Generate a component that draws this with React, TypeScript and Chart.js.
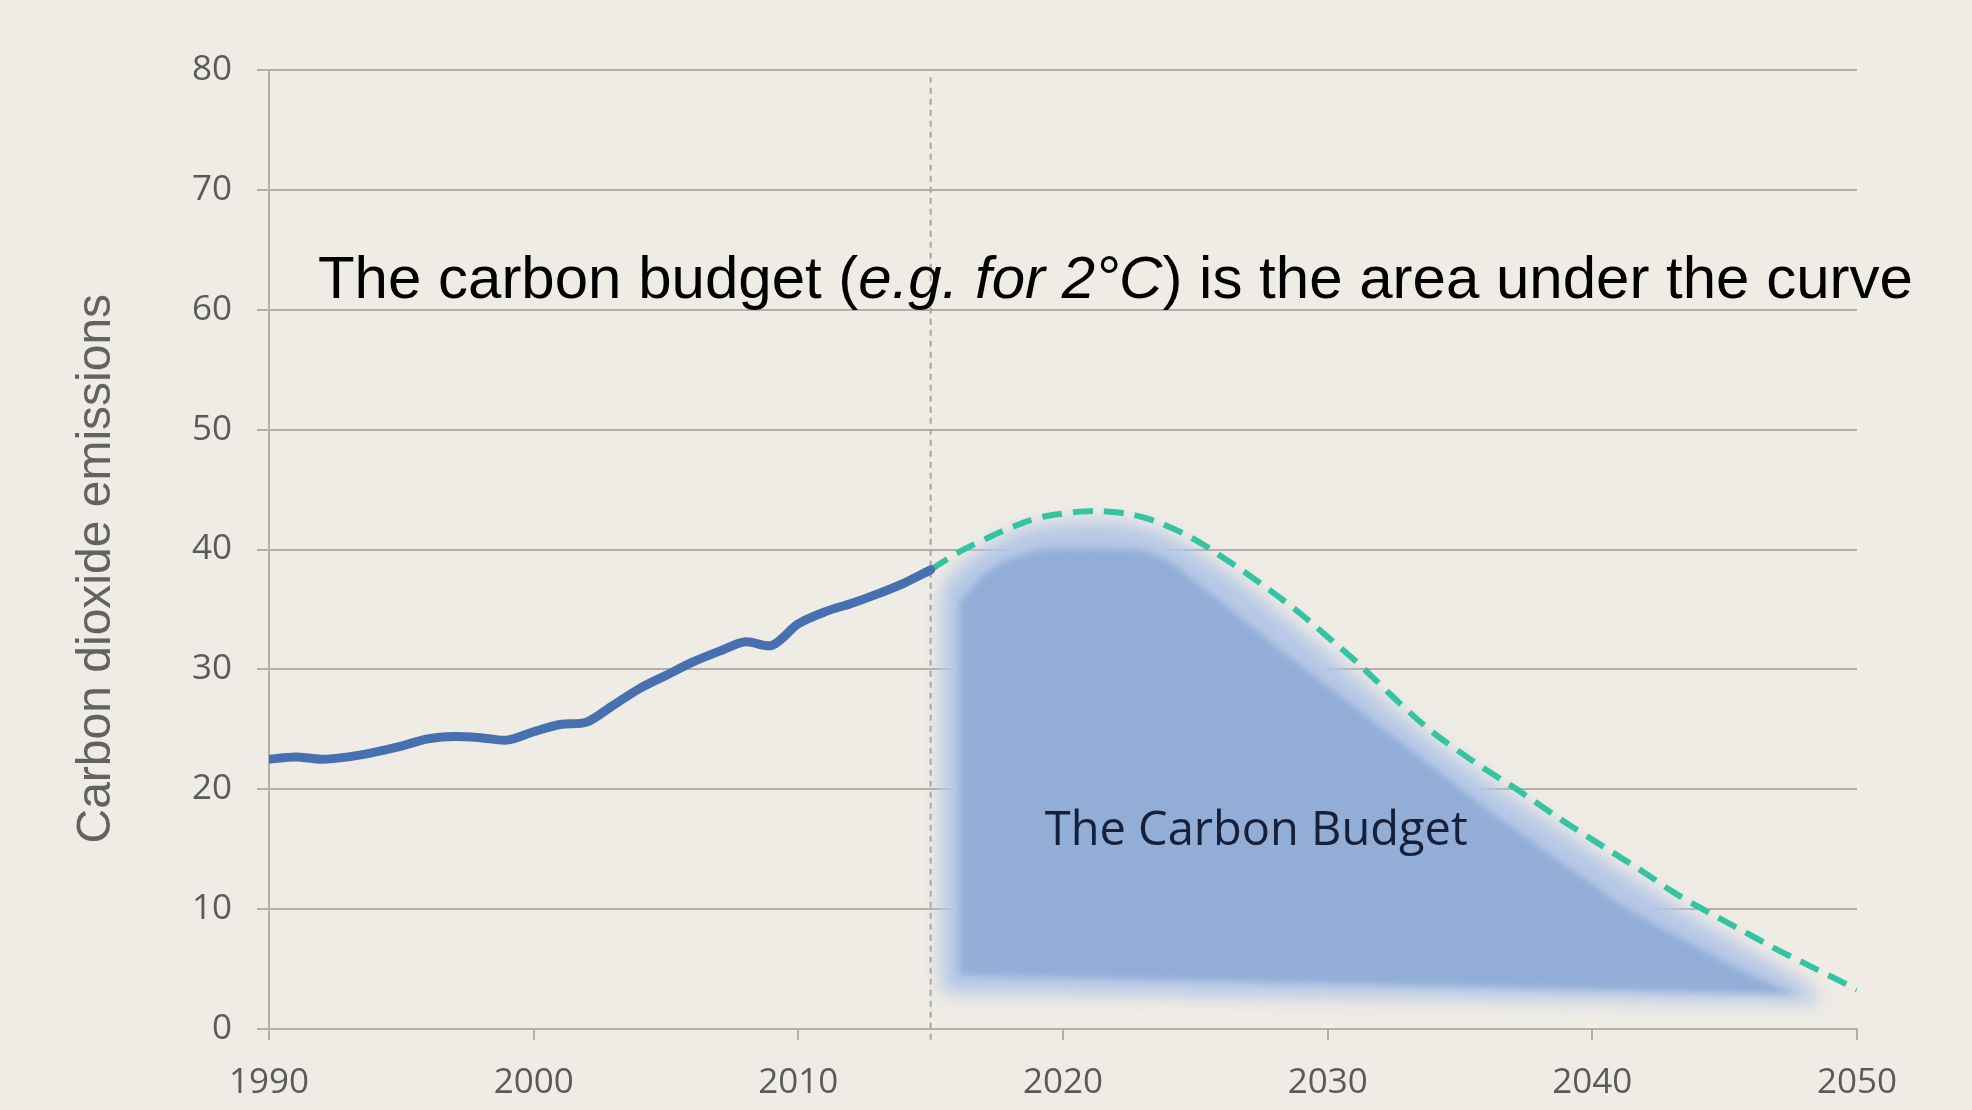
import React, { useEffect, useRef } from 'react';
import { Chart, registerables } from 'chart.js';

// Soft-edge plugin: registered BEFORE the filler so its blur filter wraps the fill drawing.
const softEdgePlugin = {
  id: 'softEdge',
  beforeDatasetDraw(chart: any, args: any) {
    const ds = chart.data.datasets[args.index] as any;
    if (ds && ds.blurPx) {
      chart.ctx.save();
      chart.ctx.filter = `blur(${ds.blurPx}px)`;
    }
  },
  afterDatasetDraw(chart: any, args: any) {
    const ds = chart.data.datasets[args.index] as any;
    if (ds && ds.blurPx) chart.ctx.restore();
  },
};
Chart.register(softEdgePlugin as any);
Chart.register(...registerables);

// ---------------- data ----------------
const xTickValues = [1990, 2000, 2010, 2020, 2030, 2040, 2050];
const yTickValues = [0, 10, 20, 30, 40, 50, 60, 70, 80];

const historyYears = [
  1990, 1991, 1992, 1993, 1994, 1995, 1996, 1997, 1998, 1999, 2000, 2001, 2002,
  2003, 2004, 2005, 2006, 2007, 2008, 2009, 2010, 2011, 2012, 2013, 2014, 2015,
];
const historyValues = [
  22.5, 22.7, 22.5, 22.7, 23.1, 23.6, 24.2, 24.4, 24.3, 24.1, 24.8, 25.4, 25.6,
  27.0, 28.4, 29.5, 30.6, 31.5, 32.3, 32.0, 33.8, 34.8, 35.5, 36.3, 37.2, 38.3,
];

const pathwayYears = [
  2015, 2016, 2017, 2018, 2019, 2020, 2021, 2022, 2023, 2024, 2025, 2026,
  2027, 2028, 2029, 2030, 2031, 2032, 2033, 2034, 2035, 2036, 2037, 2038,
  2039, 2040, 2041, 2042, 2043, 2044, 2045, 2046, 2047, 2048, 2049, 2050,
];
const pathwayValues = [
  38.3, 39.7, 40.8, 41.8, 42.6, 43.0, 43.2, 43.1, 42.7, 41.9, 40.8, 39.4,
  37.9, 36.3, 34.6, 32.7, 30.8, 28.7, 26.6, 24.7, 23.1, 21.6, 20.2, 18.7,
  17.2, 15.8, 14.4, 13.0, 11.5, 10.2, 9.0, 7.8, 6.6, 5.5, 4.4, 3.3,
];

// Budget area: soft outer halo (upper edge left→right, lower edge)
const haloYears = [
  2015.4, 2016, 2017, 2018, 2019, 2020, 2021, 2022, 2023, 2024, 2025, 2026,
  2027, 2028, 2029, 2030, 2031, 2032, 2033, 2034, 2035, 2036, 2037, 2038,
  2039, 2040, 2041, 2042, 2043, 2044, 2045, 2046, 2047, 2048, 2048.6,
];
const haloTop = [
  36.8, 38.4, 40.1, 41.3, 42.0, 42.3, 42.4, 42.3, 41.9, 41.1, 39.9, 38.4,
  36.8, 35.0, 33.2, 31.4, 29.5, 27.6, 25.8, 24.0, 22.4, 20.8, 19.3, 17.8,
  16.3, 14.8, 13.3, 11.9, 10.5, 9.1, 7.8, 6.5, 5.2, 3.9, 2.5,
];
const haloBottom = [
  3.0, 3.0, 2.95, 2.95, 2.9, 2.9, 2.85, 2.85, 2.8, 2.8, 2.75, 2.75,
  2.7, 2.7, 2.65, 2.65, 2.6, 2.6, 2.55, 2.55, 2.5, 2.5, 2.45, 2.45,
  2.4, 2.4, 2.35, 2.35, 2.3, 2.3, 2.25, 2.25, 2.2, 2.2, 2.2,
];

// Budget area: solid core
const coreYears = [
  2016.1, 2017, 2018, 2019, 2020, 2021, 2022, 2023, 2024, 2025, 2026, 2027,
  2028, 2029, 2030, 2031, 2032, 2033, 2034, 2035, 2036, 2037, 2038, 2039,
  2040, 2041, 2042, 2043, 2044, 2045, 2046, 2047, 2047.6,
];
const coreTop = [
  35.6, 37.9, 39.2, 39.9, 40.1, 40.1, 40.0, 39.9, 39.0, 37.3, 35.6, 33.8,
  32.0, 30.3, 28.6, 26.9, 25.2, 23.5, 21.8, 20.1, 18.4, 16.8, 15.2, 13.6,
  12.1, 10.5, 9.2, 8.0, 6.8, 5.6, 4.5, 3.5, 3.0,
];
const coreBottom = [
  4.5, 4.45, 4.4, 4.35, 4.3, 4.25, 4.2, 4.15, 4.1, 4.05, 4.0, 3.95,
  3.9, 3.85, 3.8, 3.75, 3.7, 3.65, 3.6, 3.55, 3.5, 3.45, 3.4, 3.35,
  3.3, 3.25, 3.2, 3.15, 3.1, 3.05, 3.0, 2.95, 2.9,
];

const dividerYear = [2015];
const dividerSpan = [-0.9, 79.4];

const titleSegments = [
  { text: 'The carbon budget (', italic: false },
  { text: 'e.g. for 2°C', italic: true },
  { text: ') is the area under the curve', italic: false },
];
const titleAnchor = [1991.85, 61.0];
const budgetLabel = 'The Carbon Budget';
const budgetLabelAnchor = [2027.3, 15.35];
const yAxisTitle = 'Carbon dioxide emissions';
const yAxisTitleCenter = 38.4;

// ---------------- styles ----------------
const BG = '#efece5';
const GRID = '#b4afa7';
const TICK_COLOR = '#5a5a5a';
const HIST_COLOR = '#4670b0';
const PATH_COLOR = '#35c4a2';
const HALO_COLOR = 'rgb(181,199,230)';
const CORE_COLOR = 'rgb(146,174,215)';

const pts = (xs: number[], ys: number[]) => xs.map((x, i) => ({ x, y: ys[i] }));
// closed outline: upper edge left→right, then lower edge right→left
const outline = (xs: number[], top: number[], bottom: number[]) => [
  ...pts(xs, top),
  ...pts(xs, bottom).reverse(),
];

export default function App() {
  const ref = useRef<HTMLCanvasElement>(null);

  useEffect(() => {
    document.body.style.margin = '0';
    document.body.style.background = BG;
    const canvas = ref.current!;

    const bgPlugin = {
      id: 'bgFill',
      beforeDraw(chart: any) {
        const { ctx, width, height } = chart;
        ctx.save();
        ctx.fillStyle = BG;
        ctx.fillRect(0, 0, width, height);
        ctx.restore();
      },
    };

    const textPlugin = {
      id: 'annotText',
      afterDatasetsDraw(chart: any) {
        const { ctx } = chart;
        const xs = chart.scales.x;
        const ys = chart.scales.y;
        ctx.save();
        // headline
        let px = xs.getPixelForValue(titleAnchor[0]);
        const py = ys.getPixelForValue(titleAnchor[1]);
        ctx.fillStyle = '#000000';
        ctx.textAlign = 'left';
        ctx.textBaseline = 'alphabetic';
        for (const seg of titleSegments) {
          ctx.font = `${seg.italic ? 'italic ' : ''}60px "Liberation Sans", Arial, sans-serif`;
          ctx.fillText(seg.text, px, py);
          px += ctx.measureText(seg.text).width;
        }
        // budget label
        ctx.font = '47px "Open Sans", sans-serif';
        ctx.fillStyle = '#17203a';
        ctx.textAlign = 'center';
        ctx.fillText(
          budgetLabel,
          xs.getPixelForValue(budgetLabelAnchor[0]),
          ys.getPixelForValue(budgetLabelAnchor[1])
        );
        // y axis title
        ctx.translate(chart.chartArea.left - 172, ys.getPixelForValue(yAxisTitleCenter));
        ctx.rotate(-Math.PI / 2);
        ctx.font = '48px "Liberation Sans", Arial, sans-serif';
        ctx.fillStyle = '#626262';
        ctx.textAlign = 'center';
        ctx.textBaseline = 'middle';
        ctx.fillText(yAxisTitle, 0, 0);
        ctx.restore();
      },
    };

    const noLine = 'rgba(0,0,0,0)';

    const chart = new Chart(canvas, {
      type: 'line',
      data: {
        datasets: [
          {
            label: 'Historical emissions',
            data: pts(historyYears, historyValues),
            borderColor: HIST_COLOR,
            borderWidth: 9,
            pointRadius: 0,
            tension: 0.3,
            fill: false,
            borderCapStyle: 'round',
            borderJoinStyle: 'round',
            order: 1,
          },
          {
            label: '2°C pathway',
            data: pts(pathwayYears, pathwayValues),
            borderColor: PATH_COLOR,
            borderWidth: 6,
            borderDash: [20, 11],
            pointRadius: 0,
            tension: 0.4,
            fill: false,
            order: 2,
          },
          {
            label: 'Budget halo',
            data: outline(haloYears, haloTop, haloBottom),
            borderColor: noLine,
            borderWidth: 0,
            pointRadius: 0,
            tension: 0.25,
            fill: 'shape',
            backgroundColor: HALO_COLOR,
            order: 8,
            blurPx: 9,
          } as any,
          {
            label: 'Budget core',
            data: outline(coreYears, coreTop, coreBottom),
            borderColor: noLine,
            borderWidth: 0,
            pointRadius: 0,
            tension: 0.25,
            fill: 'shape',
            backgroundColor: CORE_COLOR,
            order: 7,
            blurPx: 3,
          } as any,
          {
            label: 'Today',
            data: dividerSpan.map((y) => ({ x: dividerYear[0], y })),
            borderColor: '#aaa49b',
            borderWidth: 2,
            borderDash: [6, 5],
            pointRadius: 0,
            fill: false,
            clip: false,
            order: 10,
          } as any,
        ],
      },
      options: {
        responsive: false,
        maintainAspectRatio: false,
        devicePixelRatio: 1,
        animation: false,
        events: [],
        layout: { padding: { top: 70, right: 115, left: 0, bottom: 0 } },
        plugins: {
          legend: { display: false },
          tooltip: { enabled: false },
          title: { display: false },
        },
        scales: {
          x: {
            type: 'linear',
            min: 1990,
            max: 2050,
            afterBuildTicks: (s: any) => {
              s.ticks = xTickValues.map((v) => ({ value: v }));
            },
            afterFit: (s: any) => {
              s.height = 81;
            },
            ticks: {
              color: TICK_COLOR,
              font: { family: '"Open Sans", sans-serif', size: 35 },
              padding: 22,
              maxRotation: 0,
              autoSkip: false,
              callback: (v: any) => String(v),
            },
            grid: {
              display: true,
              drawOnChartArea: false,
              drawTicks: true,
              tickLength: 11,
              color: GRID,
              lineWidth: 2,
            },
            border: { display: true, color: GRID, width: 2 },
          },
          y: {
            type: 'linear',
            min: 0,
            max: 80,
            afterBuildTicks: (s: any) => {
              s.ticks = yTickValues.map((v) => ({ value: v }));
            },
            afterFit: (s: any) => {
              s.width = 269;
            },
            ticks: {
              color: TICK_COLOR,
              font: { family: '"Open Sans", sans-serif', size: 35 },
              padding: 25,
              autoSkip: false,
              callback: (v: any) => String(v),
            },
            grid: {
              display: true,
              drawTicks: true,
              tickLength: 12,
              color: GRID,
              lineWidth: 2,
            },
            border: { display: true, color: GRID, width: 2 },
          },
        },
      } as any,
      plugins: [bgPlugin, textPlugin],
    });

    let alive = true;
    if ((document as any).fonts && (document as any).fonts.ready) {
      (document as any).fonts.ready.then(() => {
        if (alive) chart.update();
      });
    }
    return () => {
      alive = false;
      chart.destroy();
    };
  }, []);

  return (
    <canvas
      ref={ref}
      width={1972}
      height={1110}
      style={{ display: 'block', width: 1972, height: 1110 }}
    />
  );
}
